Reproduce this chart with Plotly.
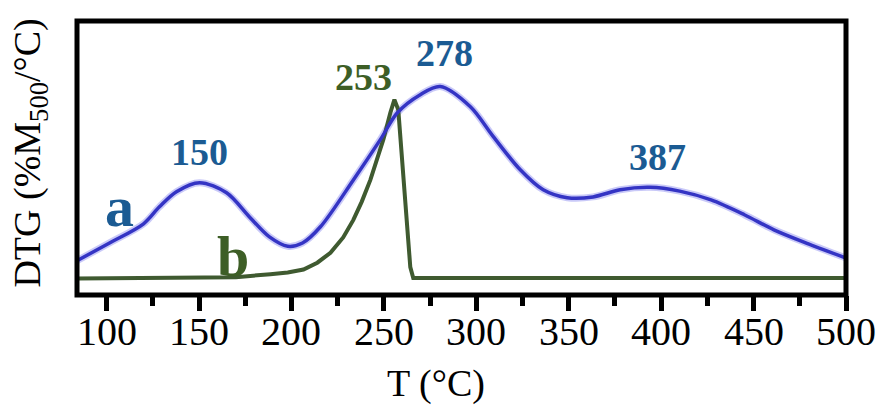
import plotly.graph_objects as go

# Curve a (blue)
a_T = [84, 101.6, 120, 128.6, 137.8, 150.3, 164.9, 177.3, 188.1, 198, 206, 215.7, 233.5, 248.1, 257.3, 269.7,
       280.5, 296.8, 309.2, 323.8, 336.2, 349.2, 363.2, 377.8, 394, 410, 427, 445, 461, 480, 500]
a_DTG = [12.5, 19.0, 26.0, 32.2, 37.7, 41.0, 37.3, 28.5, 21.2, 17.8, 19.0, 24.9, 42.0, 56.7, 66.5, 73.1,
         76.1, 68.7, 57.8, 45.7, 38.4, 35.5, 35.8, 38.4, 39.3, 37.9, 34.7, 29.3, 23.8, 18.6, 13.5]

# Curve b (green)
b_T = [84, 130, 170, 188.6, 198, 206.5, 214, 221.1, 228, 233.5, 238, 242.7, 246.5, 249.7, 253.5, 255.7,
       257.8, 260.5, 264.3, 265.9, 280, 400, 500]
b_DTG = [6.0, 6.1, 6.5, 7.6, 8.2, 9.3, 11.8, 15.4, 21.0, 27.4, 34.0, 42.0, 49.5, 56.7, 66.5, 71.3,
         67.6, 42.0, 10.2, 6.2, 6.2, 6.2, 6.2]

peak_labels = ["150", "253", "278", "387"]
peak_T = [150.3, 238.9, 282.7, 397.8]
peak_y = [52.3, 79.7, 88.5, 50.5]
peak_colors = ["#1b5b93", "#3d5e26", "#1b5b93", "#1b5b93"]

x_ticks = [100, 150, 200, 250, 300, 350, 400, 450, 500]
x_minor = [125, 175, 225, 275, 325, 375, 425, 475]

BLUE = "#3434c4"
GREEN = "#3f5a30"
FONT = "Liberation Serif, Times New Roman, serif"

L, R, T, B = 77, 33, 21, 113
PW = 879 - L - R
PH = 408 - T - B

fig = go.Figure()
fig.add_trace(go.Scatter(x=a_T, y=a_DTG, mode="lines",
                         line=dict(color="rgba(100,100,235,0.35)", width=7, shape="spline", smoothing=0.9),
                         hoverinfo="skip", showlegend=False))
fig.add_trace(go.Scatter(x=b_T, y=b_DTG, mode="lines",
                         line=dict(color=GREEN, width=4), showlegend=False))
fig.add_trace(go.Scatter(x=a_T, y=a_DTG, mode="lines",
                         line=dict(color=BLUE, width=3.5, shape="spline", smoothing=0.9), showlegend=False))

for lab, xx, yy, cc in zip(peak_labels, peak_T, peak_y, peak_colors):
    fig.add_annotation(x=xx, y=yy, xref="x", yref="y", text=f"<b>{lab}</b>", showarrow=False,
                       font=dict(family=FONT, size=38, color=cc), xanchor="center", yanchor="middle")

fig.add_annotation(x=106.8, y=32.2, xref="x", yref="y", text="<b>a</b>", showarrow=False,
                   font=dict(family=FONT, size=58, color="#1b5b93"), xanchor="center", yanchor="middle")
fig.add_annotation(x=168.6, y=13.9, xref="x", yref="y", text="<b>b</b>", showarrow=False,
                   font=dict(family=FONT, size=58, color="#3d5e26"), xanchor="center", yanchor="middle")

# tick labels
for v in x_ticks:
    fig.add_annotation(x=v, y=-(331 - 295) / PH, xref="x", yref="paper", text=str(v), showarrow=False,
                       font=dict(family=FONT, size=40, color="black"), xanchor="center", yanchor="middle")

# axis titles
fig.add_annotation(x=(30 - L) / PW, y=0.516, xref="paper", yref="paper",
                   text="DTG (%M<sub>500</sub>/°C)", textangle=-90, showarrow=False,
                   font=dict(family=FONT, size=38, color="black"), xanchor="center", yanchor="middle")
fig.add_annotation(x=(436 - L) / PW, y=-(407 - 295) / PH, xref="paper", yref="paper",
                   text="T (°C)", showarrow=False,
                   font=dict(family=FONT, size=38, color="black"), xanchor="center", yanchor="bottom")

# frame
fig.add_shape(type="rect", xref="paper", yref="paper", x0=0, x1=1, y0=0, y1=1,
              line=dict(color="black", width=5), layer="above")

fig.update_xaxes(range=[84, 500], tickvals=x_ticks, showticklabels=False, automargin=False,
                 ticks="outside", ticklen=15, tickwidth=5, tickcolor="black",
                 minor=dict(tickvals=x_minor, ticks="outside", ticklen=10, tickwidth=4.5, tickcolor="black"),
                 showgrid=False, zeroline=False, showline=False)
fig.update_yaxes(range=[0, 100], showticklabels=False, ticks="", showgrid=False, zeroline=False,
                 showline=False, automargin=False)

fig.update_layout(width=879, height=408, margin=dict(l=L, r=R, t=T, b=B),
                  plot_bgcolor="white", paper_bgcolor="white")

fig.write_html("out.html")
